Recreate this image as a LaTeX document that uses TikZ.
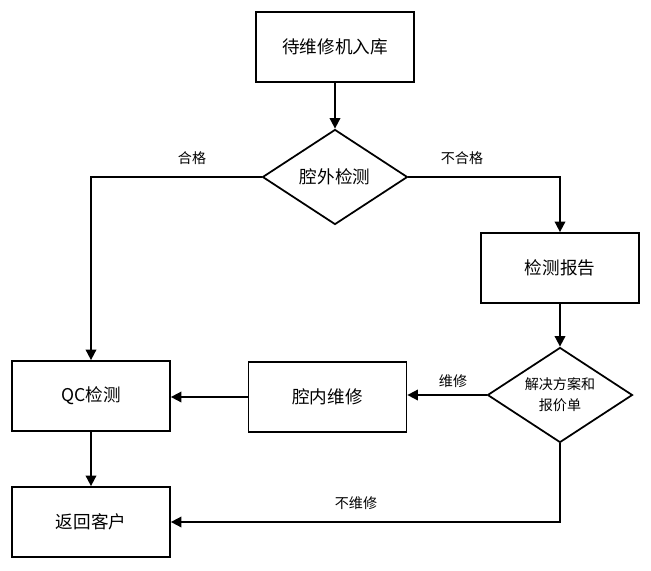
\documentclass[tikz,border=0pt]{standalone}
\usepackage{fontspec}
\setmainfont{Noto Sans CJK SC}
\usetikzlibrary{positioning, calc}
\usetikzlibrary{shapes.geometric}
\usetikzlibrary{arrows.meta}

\tikzset{
    stepbox/.style = {draw, line width=1pt, minimum width=3.16cm, minimum height=1.4cm, font=\fontsize{10}{12}\selectfont},
    choice/.style = {draw, diamond, aspect=1.5, line width=1pt, minimum width=2.9cm, minimum height=1.9cm, inner sep=0pt, align=center, font=\fontsize{10}{12}\selectfont},
    flow/.style = {line width=1pt, -{Triangle[length=6pt,width=6pt]}},
    tag/.style = {font=\fontsize{8}{10}\selectfont}
}

\begin{document}
\begin{tikzpicture}
            \useasboundingbox (0,0) rectangle (13.02,-11.4);
            \node[stepbox] (intake) at (6.7,-0.94) {待维修机入库};
            \node[choice] (outer) at (6.7,-3.54) {腔外检测};
            \node[stepbox] (report) at (11.2,-5.36) {检测报告};
            \node[choice, font=\fontsize{8}{10}\selectfont] (plan) at (11.2,-7.9) {解决方案和\\[2pt]报价单};
            \node[stepbox] (inner) at (6.55,-7.94) {腔内维修};
            \node[stepbox] (qc) at (1.82,-7.92) {QC检测};
            \node[stepbox] (back) at (1.82,-10.44) {返回客户};
            \draw[flow] (intake) -- (outer);
            \draw[flow] (outer.west) -| (qc.north);
            \draw[flow] (outer.east) -| (report.north);
            \draw[flow] (report) -- (plan);
            \draw[flow] (plan.west) -- (plan.west -| inner.east);
            \draw[flow] (inner.west) -- (inner.west -| qc.east);
            \draw[flow] (qc) -- (back);
            \draw[flow] (plan.south) |- (back.east);
            \node[tag] (pass) at (3.84,-3.16) {合格};
            \node[tag] (fail) at (9.24,-3.16) {不合格};
            \node[tag] (fix) at (9.06,-7.62) {维修};
            \node[tag] (nofix) at (7.12,-10.06) {不维修};
        \end{tikzpicture}
\end{document}
